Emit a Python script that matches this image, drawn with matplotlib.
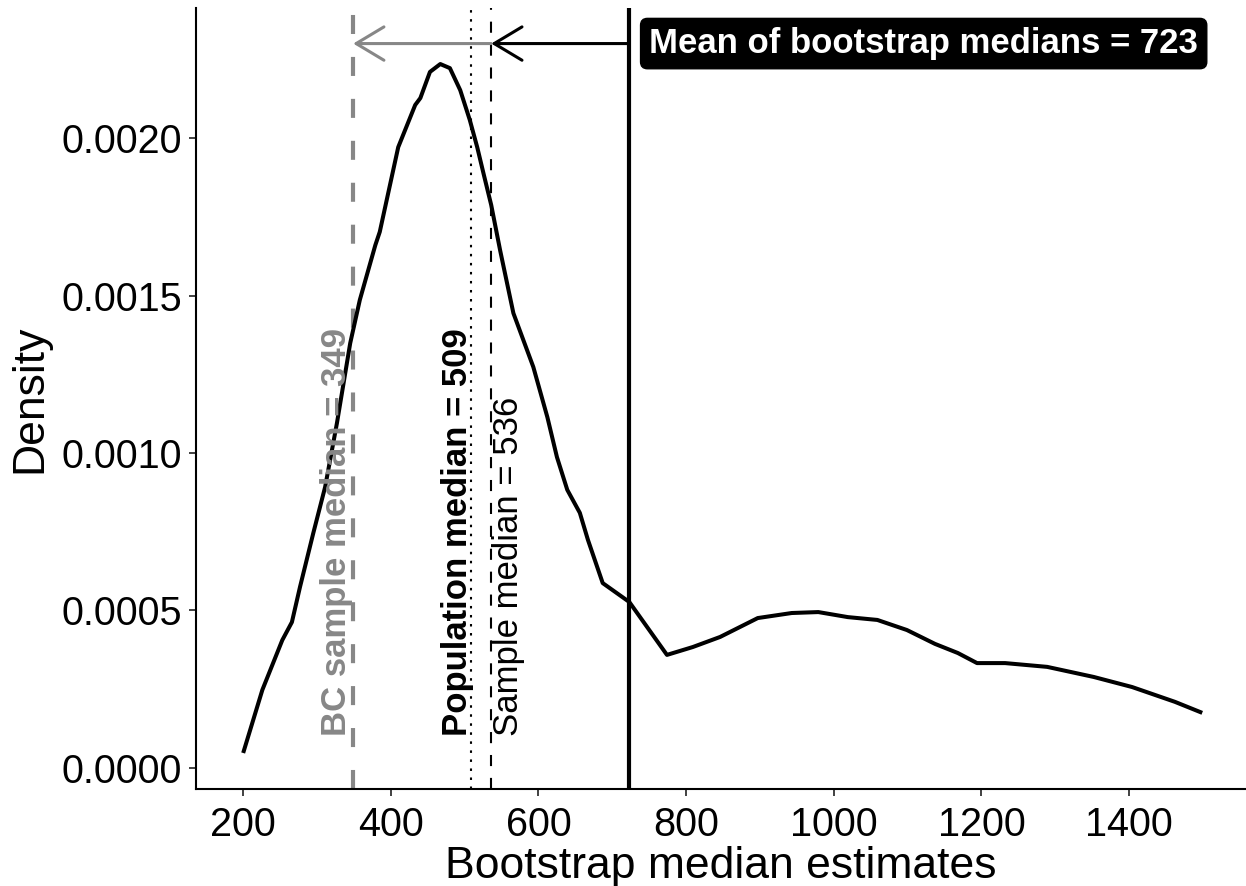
import matplotlib
matplotlib.use("Agg")
import matplotlib.pyplot as plt
from matplotlib.patches import ArrowStyle
from matplotlib.ticker import FormatStrFormatter

plt.rcParams['font.family'] = ['Liberation Sans', 'DejaVu Sans']
plt.rcParams['lines.scale_dashes'] = False

# density of the bootstrap medians
boot_x = [200, 226, 253, 266, 277, 295, 311, 327, 345, 358, 379, 385, 410, 433, 440,
          453, 467, 480, 494, 507, 517, 526, 536, 548, 566, 593, 612, 625, 639, 656,
          667, 687, 723, 774, 809, 846, 897, 943, 979, 1019, 1059, 1099, 1137, 1168,
          1194, 1232, 1289, 1352, 1404, 1462, 1499]
boot_density = [0.0000476, 0.000248, 0.000406, 0.000463, 0.000575, 0.000746, 0.000892,
                0.001095, 0.001349, 0.001486, 0.00166, 0.001702, 0.001971, 0.002105,
                0.002127, 0.00221, 0.002235, 0.002222, 0.002152, 0.002057, 0.001971,
                0.001883, 0.001787, 0.001644, 0.001444, 0.001273, 0.001114, 0.000987,
                0.000883, 0.00081, 0.000724, 0.000587, 0.000527, 0.000359, 0.000384,
                0.000416, 0.000476, 0.000492, 0.000495, 0.000479, 0.00047, 0.000438,
                0.000394, 0.000365, 0.000333, 0.000333, 0.000321, 0.000289, 0.000257,
                0.00021, 0.000175]

bc_median = 349
pop_median = 509
sample_median = 536
boot_mean = 723

label_y = 0.0001
arrow_y = 0.0023

x_ticks = [200, 400, 600, 800, 1000, 1200, 1400]
y_ticks = [0.0, 0.0005, 0.0010, 0.0015, 0.0020]

fig = plt.figure(figsize=(12.46, 8.86), dpi=100)
ax = fig.add_axes([0.1573, 0.1095, 0.8427, 0.8815])

ax.plot(boot_x, boot_density, color='black', lw=2.9, solid_joinstyle='round',
        solid_capstyle='butt', zorder=3)

ax.axvline(bc_median, color='#878787', lw=3.0, dashes=(13.7, 16.5), zorder=2)
ax.axvline(pop_median, color='black', lw=1.5, dashes=(1.8, 4.7), zorder=2)
ax.axvline(sample_median, color='black', lw=1.5, dashes=(8, 8.5), zorder=2)
ax.axvline(boot_mean, color='black', lw=3.0, zorder=2)

# arrows from the mean back to the sample median and the BC median
head = ArrowStyle('->', head_length=20, head_width=12)
ax.annotate('', xy=(bc_median, arrow_y), xytext=(sample_median, arrow_y),
            arrowprops=dict(arrowstyle=head, color='#878787', lw=2.2,
                            shrinkA=0, shrinkB=0, mutation_scale=1))
ax.annotate('', xy=(sample_median, arrow_y), xytext=(boot_mean, arrow_y),
            arrowprops=dict(arrowstyle=head, color='black', lw=2.2,
                            shrinkA=0, shrinkB=0, mutation_scale=1))

ax.text(750, arrow_y, f'Mean of bootstrap medians = {boot_mean}', color='white',
        fontsize=25, fontweight='bold', ha='left', va='center',
        bbox=dict(boxstyle='round,pad=0.25,rounding_size=0.2', fc='black', ec='black'))

ax.text(bc_median - 22, label_y, f'BC sample median = {bc_median}', rotation=90,
        color='#878787', fontsize=25, fontweight='bold', ha='center', va='bottom')
ax.text(pop_median - 19, label_y, f'Population median = {pop_median}', rotation=90,
        color='black', fontsize=25, fontweight='bold', ha='center', va='bottom')
ax.text(sample_median + 24, label_y, f'Sample median = {sample_median}', rotation=90,
        color='black', fontsize=25, ha='center', va='bottom')

ax.set_xlim(136.1, 1558.3)
ax.set_ylim(-0.0000667, 0.002413)
ax.set_xticks(x_ticks)
ax.set_yticks(y_ticks)
ax.yaxis.set_major_formatter(FormatStrFormatter('%.4f'))

for side in ['top', 'right']:
    ax.spines[side].set_visible(False)
for side in ['left', 'bottom']:
    ax.spines[side].set_linewidth(1.5)
ax.tick_params(axis='both', labelsize=28.5, colors='black', length=5, width=1.3,
               pad=5)
ax.tick_params(axis='both', color='#333333')
ax.tick_params(axis='x', pad=7)

ax.set_xlabel('Bootstrap median estimates', fontsize=32, labelpad=2)
ax.set_ylabel('Density', fontsize=32, labelpad=8)

fig.savefig('out.png', dpi=100)
